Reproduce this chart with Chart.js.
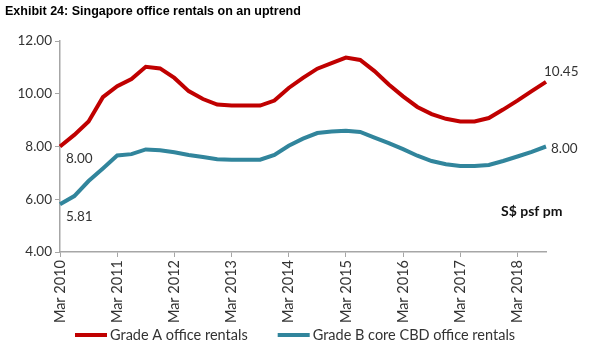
<!DOCTYPE html>
<html>
<head>
<meta charset="utf-8">
<script src="https://cdn.jsdelivr.net/npm/chart.js@4"></script>
<style>
    html, body { margin: 0; padding: 0; background: #fff; }
    #wrap { width: 599px; height: 360px; }
</style>
</head>
<body>
<div id="wrap"><canvas id="rentChart" width="599" height="360"></canvas></div>
<script>
// Quarterly, Mar 2010 - Sep 2018
const quarters = [];
const years = [2010, 2011, 2012, 2013, 2014, 2015, 2016, 2017, 2018];
const months = ['Mar', 'Jun', 'Sep', 'Dec'];
years.forEach(y => months.forEach(m => quarters.push(m + ' ' + y)));
quarters.length = 35;

const gradeA = [8.00, 8.44, 8.95, 9.87, 10.29, 10.56, 11.02, 10.96, 10.60, 10.10,
    9.80, 9.59, 9.55, 9.55, 9.55, 9.74, 10.22, 10.60, 10.95, 11.16,
    11.37, 11.28, 10.86, 10.35, 9.90, 9.50, 9.23, 9.05, 8.95, 8.95,
    9.08, 9.40, 9.74, 10.10, 10.45];
const gradeB = [5.81, 6.12, 6.69, 7.17, 7.66, 7.71, 7.89, 7.86, 7.78, 7.68,
    7.60, 7.52, 7.50, 7.50, 7.50, 7.68, 8.03, 8.30, 8.51, 8.57,
    8.60, 8.55, 8.34, 8.13, 7.90, 7.65, 7.45, 7.33, 7.26, 7.26,
    7.30, 7.45, 7.62, 7.80, 8.00];

const font = 'Lato';
const axisColor = '#A6A6A6';

// point labels: [dataset, index, text, dx, dy]
const pointLabels = [
    [0, 0, '8.00', 6, 12],
    [1, 0, '5.81', 6, 12],
    [0, 34, '10.45', -2, -10],
    [1, 34, '8.00', 5, 2]
];

const rentChart = new Chart(document.getElementById('rentChart'), {
    type: 'line',
    data: {
        labels: quarters,
        datasets: [{
            label: 'Grade A office rentals',
            data: gradeA,
            borderColor: '#C00000',
            backgroundColor: '#C00000',
            borderWidth: 4,
            pointRadius: 0,
            tension: 0
        }, {
            label: 'Grade B core CBD office rentals',
            data: gradeB,
            borderColor: '#31859C',
            backgroundColor: '#31859C',
            borderWidth: 4,
            pointRadius: 0,
            tension: 0
        }]
    },
    plugins: [{
        id: 'labels',
        afterDatasetsDraw: (chart) => {
            const ctx = chart.ctx;
            ctx.save();
            ctx.font = '13.5px ' + font;
            ctx.fillStyle = '#333';
            ctx.textBaseline = 'middle';
            ctx.textAlign = 'left';
            pointLabels.forEach(([ds, i, txt, dx, dy]) => {
                const pt = chart.getDatasetMeta(ds).data[i];
                ctx.fillText(txt, pt.x + dx, pt.y + dy);
            });
            ctx.font = 'bold 14px ' + font;
            ctx.fillStyle = '#111';
            ctx.fillText('S$ psf pm', 501, 211);

            // legend, line samples then names
            ctx.font = '14.5px ' + font;
            let x = 75;
            const y = 335;
            chart.data.datasets.forEach(ds => {
                ctx.fillStyle = ds.borderColor;
                ctx.fillRect(x, y - 2, 32, 4);
                x += 35;
                ctx.fillStyle = '#333';
                ctx.fillText(ds.label, x, y);
                x += ctx.measureText(ds.label).width + 30;
            });
            ctx.restore();
        }
    }],
    options: {
        responsive: false,
        animation: false,
        layout: {
            padding: { top: 4, left: 5, right: 53, bottom: 36 }
        },
        plugins: {
            title: {
                display: true,
                text: 'Exhibit 24: Singapore office rentals on an uptrend',
                align: 'start',
                color: '#000',
                font: { family: 'Liberation Sans', size: 12.5, weight: 'bold' },
                padding: { top: 0, bottom: 22 }
            },
            legend: { display: false },
            tooltip: { enabled: false }
        },
        scales: {
            x: {
                offset: false,
                afterFit: (scale) => { scale.height = 72; },
                grid: {
                    drawOnChartArea: false,
                    drawTicks: true,
                    tickLength: 5,
                    color: axisColor
                },
                border: { color: axisColor, width: 1.5 },
                ticks: {
                    autoSkip: false,
                    maxRotation: 90,
                    minRotation: 90,
                    color: '#333',
                    font: { family: font, size: 14.5 },
                    callback: function (val, i) {
                        return i % 4 === 0 ? this.getLabelForValue(val) : null;
                    }
                }
            },
            y: {
                min: 4,
                max: 12,
                afterFit: (scale) => { scale.width = 55; },
                grid: {
                    drawOnChartArea: false,
                    drawTicks: true,
                    tickLength: 5,
                    color: axisColor
                },
                border: { color: axisColor, width: 1.5 },
                ticks: {
                    stepSize: 2,
                    color: '#333',
                    font: { family: font, size: 13.5 },
                    callback: (v) => v.toFixed(2)
                }
            }
        }
    }
});
</script>
</body>
</html>
